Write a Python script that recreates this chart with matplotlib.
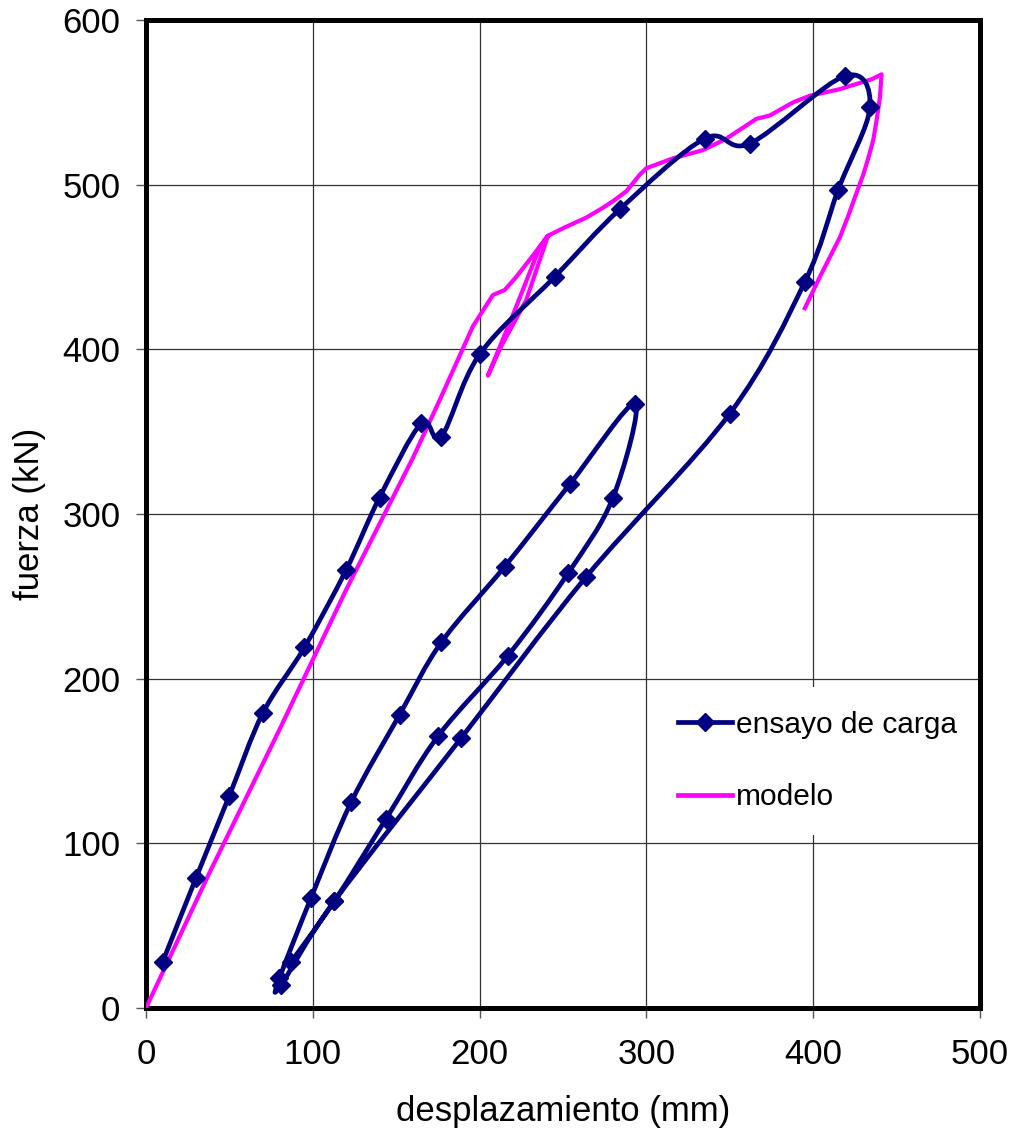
import numpy as np
import matplotlib
matplotlib.use("Agg")
import matplotlib.pyplot as plt
from matplotlib.path import Path
from matplotlib.patches import PathPatch
from matplotlib.lines import Line2D

plt.rcParams['font.family'] = ['Liberation Sans', 'DejaVu Sans']

# ensayo de carga (load test), in the order it was measured
ensayo_x = [10, 30, 50, 70, 95, 120, 140, 165, 177, 200, 245, 284, 335, 362, 419, 434,
            415, 395, 350, 264, 189, 113, 81, 80, 99, 123, 152, 177, 215, 254, 293,
            280, 253, 217, 175, 144, 113, 87]
ensayo_y = [28, 79, 129, 179, 219, 266, 310, 355, 347, 397, 444, 485, 528, 525, 566, 547,
            497, 441, 361, 262, 164, 65, 14, 18, 67, 125, 178, 222, 268, 318, 367,
            310, 264, 214, 165, 115, 65, 28]

# modelo (model curve)
modelo_x = [0, 38, 80, 120, 160, 176, 184, 196, 208, 215, 222, 232, 241, 236, 222, 205,
            212, 228, 241, 251, 264, 274, 280, 288, 296, 300, 316, 334, 348, 366, 374,
            388, 398, 416, 435, 441, 440, 438, 436, 433, 430, 426, 421, 416, 410, 404, 395]
modelo_y = [0, 82, 169, 254, 334, 369, 387, 414, 433, 436, 444, 457, 469, 462, 426, 384,
            400, 430, 469, 474, 480, 486, 490, 496, 506, 510, 516, 521, 528, 540, 542,
            550, 554, 558, 564, 567, 553, 539, 527, 516, 506, 495, 481, 468, 456, 444, 425]

x_ticks = [0, 100, 200, 300, 400, 500]
y_ticks = [0, 100, 200, 300, 400, 500, 600]

navy = '#000080'
magenta = '#FF00FF'


def smooth_path(xs, ys):
    # bezier through the points, like a spreadsheet "smoothed line"
    pts = np.column_stack([xs, ys]).astype(float)
    n = len(pts)
    verts = [pts[0]]
    codes = [Path.MOVETO]
    for i in range(n - 1):
        p0 = pts[i - 1] if i > 0 else pts[i]
        p1 = pts[i]
        p2 = pts[i + 1]
        p3 = pts[i + 2] if i + 2 < n else pts[i + 1]
        verts += [p1 + (p2 - p0) / 6, p2 - (p3 - p1) / 6, p2]
        codes += [Path.CURVE4] * 3
    return Path(verts, codes)


fig = plt.figure(figsize=(10.16, 11.4), dpi=100)
ax = fig.add_axes([146 / 1016, 1 - 1008 / 1140, 834 / 1016, 988 / 1140])

ax.plot(modelo_x, modelo_y, color=magenta, lw=3.0, zorder=3, solid_joinstyle='round')

ax.add_patch(PathPatch(smooth_path(ensayo_x, ensayo_y), facecolor='none',
                       edgecolor=navy, lw=3.4, zorder=4, joinstyle='round'))
ax.plot(ensayo_x, ensayo_y, linestyle='none', marker='D', markersize=9,
        color=navy, zorder=5)

ax.set_xlim(0, 500)
ax.set_ylim(0, 600)
ax.set_xticks(x_ticks)
ax.set_yticks(y_ticks)
ax.grid(True, color='#333333', lw=0.9)
ax.set_axisbelow(True)

for s in ax.spines.values():
    s.set_linewidth(3.6)
    s.set_color('black')

ax.tick_params(axis='both', direction='out', length=7.5, width=1, color='#555555',
               labelsize=25)
ax.tick_params(axis='x', pad=14)
ax.tick_params(axis='y', pad=11)

ax.set_xlabel('desplazamiento (mm)', fontsize=25)
ax.set_ylabel('fuerza (kN)', fontsize=25)
ax.xaxis.set_label_coords(0.5, -0.088)
ax.yaxis.set_label_coords(-0.12, 0.5)

handles = [Line2D([], [], color=navy, lw=3.4, marker='D', markersize=9),
           Line2D([], [], color=magenta, lw=3.4)]
leg = ax.legend(handles, ['ensayo de carga', 'modelo'], loc='center',
                bbox_to_anchor=(0.805, 0.25), fontsize=21.5, frameon=True,
                facecolor='white', edgecolor='none', framealpha=1, fancybox=False,
                borderpad=0.8, handlelength=1.8, handletextpad=0.15, labelspacing=1.5)
# keep the white legend box above the grid but under the frame
leg.set_zorder(2.4)

fig.savefig('out.png', dpi=100)
